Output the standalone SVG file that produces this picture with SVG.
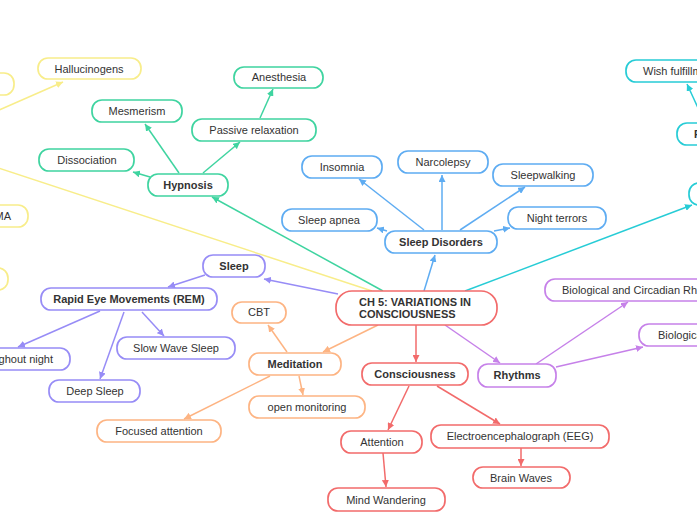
<svg xmlns="http://www.w3.org/2000/svg" width="697" height="520" viewBox="0 0 697 520">
<style>
  text { font-family: "Liberation Sans", Arial, sans-serif; font-size: 11px; fill: #333; }
  .b { font-weight: bold; }
  .c { text-anchor: middle; }
  rect { fill: #fff; stroke-width: 1.7; }
  .red { stroke: #f26b6b; }
  .pur { stroke: #c681e9; }
  .lav { stroke: #978cf6; }
  .ora { stroke: #fdb483; }
  .grn { stroke: #3fd4a0; }
  .blu { stroke: #5eacf2; }
  .cya { stroke: #27ccd6; }
  .yel { stroke: #f8ed8a; }
  #connectors line { stroke-width: 1.5; fill: none; }
</style>
<defs>
  <marker id="mRed" viewBox="0 0 8 8" refX="8" refY="4" markerWidth="7" markerHeight="7" markerUnits="userSpaceOnUse" orient="auto"><path d="M0,0 L8,4 L0,8 z" fill="#f26b6b"/></marker>
  <marker id="mPur" viewBox="0 0 8 8" refX="8" refY="4" markerWidth="7" markerHeight="7" markerUnits="userSpaceOnUse" orient="auto"><path d="M0,0 L8,4 L0,8 z" fill="#c681e9"/></marker>
  <marker id="mLav" viewBox="0 0 8 8" refX="8" refY="4" markerWidth="7" markerHeight="7" markerUnits="userSpaceOnUse" orient="auto"><path d="M0,0 L8,4 L0,8 z" fill="#978cf6"/></marker>
  <marker id="mOra" viewBox="0 0 8 8" refX="8" refY="4" markerWidth="7" markerHeight="7" markerUnits="userSpaceOnUse" orient="auto"><path d="M0,0 L8,4 L0,8 z" fill="#fdb483"/></marker>
  <marker id="mGrn" viewBox="0 0 8 8" refX="8" refY="4" markerWidth="7" markerHeight="7" markerUnits="userSpaceOnUse" orient="auto"><path d="M0,0 L8,4 L0,8 z" fill="#3fd4a0"/></marker>
  <marker id="mBlu" viewBox="0 0 8 8" refX="8" refY="4" markerWidth="7" markerHeight="7" markerUnits="userSpaceOnUse" orient="auto"><path d="M0,0 L8,4 L0,8 z" fill="#5eacf2"/></marker>
  <marker id="mCya" viewBox="0 0 8 8" refX="8" refY="4" markerWidth="7" markerHeight="7" markerUnits="userSpaceOnUse" orient="auto"><path d="M0,0 L8,4 L0,8 z" fill="#27ccd6"/></marker>
  <marker id="mYel" viewBox="0 0 8 8" refX="8" refY="4" markerWidth="7" markerHeight="7" markerUnits="userSpaceOnUse" orient="auto"><path d="M0,0 L8,4 L0,8 z" fill="#f8ed8a"/></marker>
</defs>
<rect x="0" y="0" width="697" height="520" style="fill:#fff;stroke:none"/>

<g id="connectors">
  <!-- from central -->
  <line x1="372" y1="291" x2="-20" y2="162" stroke="#f8ed8a"/>
  <line x1="383" y1="291" x2="212" y2="197" stroke="#3fd4a0" marker-end="url(#mGrn)"/>
  <line x1="338" y1="294" x2="264" y2="279" stroke="#978cf6" marker-end="url(#mLav)"/>
  <line x1="424" y1="291" x2="435" y2="255" stroke="#5eacf2" marker-end="url(#mBlu)"/>
  <line x1="465" y1="291" x2="692" y2="205" stroke="#27ccd6" marker-end="url(#mCya)"/>
  <line x1="416" y1="325" x2="416" y2="362" stroke="#f26b6b" marker-end="url(#mRed)"/>
  <line x1="445" y1="325" x2="500" y2="363" stroke="#c681e9" marker-end="url(#mPur)"/>
  <line x1="378" y1="325" x2="323" y2="352" stroke="#fdb483" marker-end="url(#mOra)"/>
  <!-- yellow -->
  <line x1="-10" y1="114" x2="63" y2="82" stroke="#f8ed8a" marker-end="url(#mYel)"/>
  <!-- hypnosis -->
  <line x1="150" y1="177" x2="133" y2="172" stroke="#3fd4a0" marker-end="url(#mGrn)"/>
  <line x1="179" y1="173" x2="145" y2="124" stroke="#3fd4a0" marker-end="url(#mGrn)"/>
  <line x1="203" y1="173" x2="240" y2="142" stroke="#3fd4a0" marker-end="url(#mGrn)"/>
  <line x1="260" y1="118" x2="273" y2="89" stroke="#3fd4a0" marker-end="url(#mGrn)"/>
  <!-- sleep disorders -->
  <line x1="424" y1="230" x2="359" y2="179" stroke="#5eacf2" marker-end="url(#mBlu)"/>
  <line x1="442" y1="230" x2="442" y2="175" stroke="#5eacf2" marker-end="url(#mBlu)"/>
  <line x1="460" y1="230" x2="525" y2="187" stroke="#5eacf2" marker-end="url(#mBlu)"/>
  <line x1="387" y1="231" x2="377" y2="228" stroke="#5eacf2" marker-end="url(#mBlu)"/>
  <line x1="494" y1="231" x2="510" y2="228" stroke="#5eacf2" marker-end="url(#mBlu)"/>
  <!-- dreams -->
  <line x1="698" y1="108" x2="687" y2="84" stroke="#27ccd6" marker-end="url(#mCya)"/>
  <!-- rhythms -->
  <line x1="536" y1="364" x2="628" y2="302" stroke="#c681e9" marker-end="url(#mPur)"/>
  <line x1="556" y1="367" x2="643" y2="347" stroke="#c681e9" marker-end="url(#mPur)"/>
  <!-- consciousness -->
  <line x1="409" y1="386" x2="388" y2="430" stroke="#f26b6b" marker-end="url(#mRed)"/>
  <line x1="437" y1="386" x2="500" y2="424" stroke="#f26b6b" marker-end="url(#mRed)"/>
  <line x1="521" y1="448" x2="521" y2="466" stroke="#f26b6b" marker-end="url(#mRed)"/>
  <line x1="383" y1="453" x2="386" y2="487" stroke="#f26b6b" marker-end="url(#mRed)"/>
  <!-- meditation -->
  <line x1="287" y1="352" x2="268" y2="325" stroke="#fdb483" marker-end="url(#mOra)"/>
  <line x1="299" y1="376" x2="303" y2="395" stroke="#fdb483" marker-end="url(#mOra)"/>
  <line x1="270" y1="376" x2="184" y2="419" stroke="#fdb483" marker-end="url(#mOra)"/>
  <!-- sleep -->
  <line x1="205" y1="275" x2="168" y2="287" stroke="#978cf6" marker-end="url(#mLav)"/>
  <line x1="100" y1="311" x2="18" y2="347" stroke="#978cf6" marker-end="url(#mLav)"/>
  <line x1="124" y1="312" x2="100" y2="379" stroke="#978cf6" marker-end="url(#mLav)"/>
  <line x1="142" y1="312" x2="164" y2="336" stroke="#978cf6" marker-end="url(#mLav)"/>
</g>

<g id="central"><rect class="red" x="336" y="291" width="161" height="34" rx="16"/><text class="b" x="359" y="306">CH 5: VARIATIONS IN</text><text class="b" x="359" y="318">CONSCIOUSNESS</text></g>

<g id="consciousness"><rect class="red" x="362" y="363" width="106" height="22" rx="10"/><text class="b c" x="415" y="378">Consciousness</text></g>
<g id="attention"><rect class="red" x="341" y="431" width="81" height="22" rx="10"/><text class="c" x="382" y="446">Attention</text></g>
<g id="eeg"><rect class="red" x="431" y="425" width="178" height="23" rx="10"/><text class="c" x="520" y="440">Electroencephalograph (EEG)</text></g>
<g id="brainwaves"><rect class="red" x="473" y="467" width="97" height="21" rx="10"/><text class="c" x="521" y="482">Brain Waves</text></g>
<g id="mindwandering"><rect class="red" x="328" y="488" width="117" height="23" rx="10"/><text class="c" x="386" y="504">Mind Wandering</text></g>

<g id="rhythms"><rect class="pur" x="478" y="364" width="78" height="23" rx="10"/><text class="b c" x="517" y="379">Rhythms</text></g>
<g id="bio-circadian"><rect class="pur" x="545" y="279" width="170" height="22" rx="10"/><text x="562" y="294">Biological and Circadian Rhythms</text></g>
<g id="bio2"><rect class="pur" x="639" y="324" width="80" height="22" rx="10"/><text x="658" y="339">Biological</text></g>

<g id="meditation"><rect class="ora" x="249" y="353" width="92" height="22" rx="10"/><text class="b c" x="295" y="368">Meditation</text></g>
<g id="cbt"><rect class="ora" x="232" y="302" width="54" height="21" rx="10"/><text class="c" x="259" y="316">CBT</text></g>
<g id="openmonitoring"><rect class="ora" x="249" y="396" width="116" height="22" rx="10"/><text class="c" x="307" y="411">open monitoring</text></g>
<g id="focused"><rect class="ora" x="97" y="420" width="124" height="22" rx="10"/><text class="c" x="159" y="435">Focused attention</text></g>

<g id="sleep"><rect class="lav" x="203" y="255" width="62" height="22" rx="10"/><text class="b c" x="234" y="270">Sleep</text></g>
<g id="rem"><rect class="lav" x="41" y="288" width="176" height="22" rx="10"/><text class="b c" x="129" y="303">Rapid Eye Movements (REM)</text></g>
<g id="throughout"><rect class="lav" x="-60" y="348" width="130" height="22" rx="10"/><text style="text-anchor:end" x="53" y="363">Throughout night</text></g>
<g id="slowwave"><rect class="lav" x="117" y="337" width="118" height="22" rx="10"/><text class="c" x="176" y="352">Slow Wave Sleep</text></g>
<g id="deepsleep"><rect class="lav" x="49" y="380" width="91" height="22" rx="10"/><text class="c" x="95" y="395">Deep Sleep</text></g>

<g id="hypnosis"><rect class="grn" x="148" y="174" width="80" height="22" rx="10"/><text class="b c" x="188" y="189">Hypnosis</text></g>
<g id="dissociation"><rect class="grn" x="39" y="149" width="95" height="22" rx="10"/><text class="c" x="87" y="164">Dissociation</text></g>
<g id="mesmerism"><rect class="grn" x="92" y="100" width="90" height="22" rx="10"/><text class="c" x="137" y="115">Mesmerism</text></g>
<g id="passive"><rect class="grn" x="192" y="119" width="124" height="22" rx="10"/><text class="c" x="254" y="134">Passive relaxation</text></g>
<g id="anesthesia"><rect class="grn" x="234" y="67" width="89" height="21" rx="10"/><text class="c" x="279" y="81">Anesthesia</text></g>

<g id="sleepdisorders"><rect class="blu" x="385" y="231" width="112" height="22" rx="10"/><text class="b c" x="441" y="246">Sleep Disorders</text></g>
<g id="insomnia"><rect class="blu" x="302" y="156" width="80" height="22" rx="10"/><text class="c" x="342" y="171">Insomnia</text></g>
<g id="narcolepsy"><rect class="blu" x="398" y="151" width="90" height="22" rx="10"/><text class="c" x="443" y="166">Narcolepsy</text></g>
<g id="sleepwalking"><rect class="blu" x="493" y="164" width="100" height="22" rx="10"/><text class="c" x="543" y="179">Sleepwalking</text></g>
<g id="apnea"><rect class="blu" x="282" y="209" width="95" height="22" rx="10"/><text class="c" x="329" y="224">Sleep apnea</text></g>
<g id="nightterrors"><rect class="blu" x="508" y="207" width="98" height="22" rx="10"/><text class="c" x="557" y="222">Night terrors</text></g>

<g id="dreams"><rect class="cya" x="689" y="183" width="60" height="22" rx="10"/></g>
<g id="f-node"><rect class="cya" x="677" y="123" width="60" height="22" rx="10"/><text class="b" x="694" y="138">F</text></g>
<g id="wish"><rect class="cya" x="626" y="60" width="120" height="22" rx="10"/><text x="643" y="75">Wish fulfillment</text></g>

<g id="hallucinogens"><rect class="yel" x="38" y="58" width="103" height="21" rx="10"/><text class="c" x="89" y="73">Hallucinogens</text></g>
<g id="yel1"><rect class="yel" x="-60" y="73" width="74" height="22" rx="10"/></g>
<g id="mdma"><rect class="yel" x="-60" y="205" width="88" height="22" rx="10"/><text style="text-anchor:end" x="11" y="220">MDMA</text></g>
<g id="yel3"><rect class="yel" x="-60" y="268" width="68" height="22" rx="10"/></g>
</svg>
